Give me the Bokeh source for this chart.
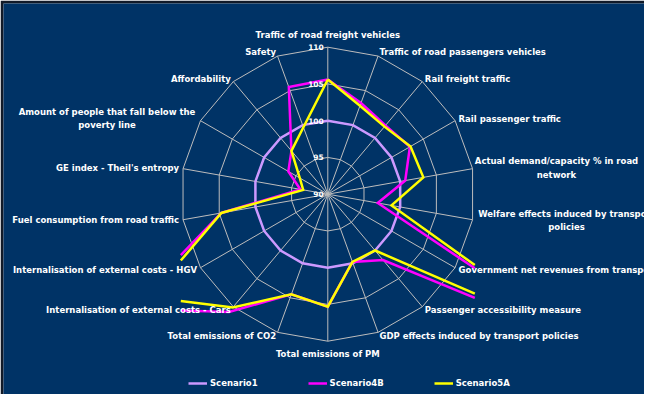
import numpy as np
from bokeh.plotting import figure
from bokeh.models import Range1d, Legend, LegendItem, ColumnDataSource
from bokeh.core.properties import value
from bokeh.embed import file_html
from bokeh.resources import INLINE

# ---------------- data ----------------
categories = [
    "Traffic of road freight vehicles",
    "Traffic of road passengers vehicles",
    "Rail freight traffic",
    "Rail passenger traffic",
    "Actual demand/capacity % in road\nnetwork",
    "Welfare effects induced by transport\npolicies",
    "Government net revenues from transport",
    "Passenger accessibility measure",
    "GDP effects induced by transport policies",
    "Total emissions of PM",
    "Total emissions of CO2",
    "Internalisation of external costs - Cars",
    "Internalisation of external costs - HGV",
    "Fuel consumption from road traffic",
    "GE index - Theil's entropy",
    "Amount of people that fall below the\npoverty line",
    "Affordability",
    "Safety",
]
scenario1 = [100, 100, 100, 100, 100, 100, 100, 100, 100,
             100, 100, 100, 100, 100, 100, 100, 100, 100]
scenario4b = [105.6, 103.2, 102.2, 102.9, 100.7, 96.9, 131.0, 101.7, 99.8,
              105.3, 104.5, 110.9, 121.3, 104.7, 93.8, 96.2, 97.7, 105.5]
scenario5a = [105.6, 102.8, 102.0, 103.0, 103.2, 98.8, 129.0, 100.0, 99.8,
              105.3, 104.5, 110.1, 118.0, 104.7, 93.4, 94.4, 97.7, 99.7]
series_names = ["Scenario1", "Scenario4B", "Scenario5A"]
series_colors = ["#CC99FF", "#FF00FF", "#FFFF00"]
ticks = [90, 95, 100, 105, 110]
r_min, r_max = 90, 110

# ---------------- geometry ----------------
BG = "#003366"
GRID = "#BDBDBD"
FONT = "DejaVu Sans"
CX, CY, R = 335.3, 201.7, 147.0   # page-pixel coordinates (y downward)
n = len(categories)
theta = np.arange(n) * 2 * np.pi / n  # clockwise from top


def to_xy(vals):
    v = np.asarray(vals, dtype=float)
    r = (v - r_min) / (r_max - r_min) * R
    return CX + r * np.sin(theta), CY - r * np.cos(theta)


XMIN, XMAX, YMIN, YMAX = CX - R, CX + R, CY - R, CY + R


def clip_seg(x0, y0, x1, y1):
    dx, dy = x1 - x0, y1 - y0
    p = [-dx, dx, -dy, dy]
    q = [x0 - XMIN, XMAX - x0, y0 - YMIN, YMAX - y0]
    u0, u1 = 0.0, 1.0
    for pi, qi in zip(p, q):
        if pi == 0:
            if qi < 0:
                return None
        else:
            t = qi / pi
            if pi < 0:
                u0 = max(u0, t)
            else:
                u1 = min(u1, t)
    if u0 > u1:
        return None
    return (x0 + u0 * dx, y0 + u0 * dy, x0 + u1 * dx, y0 + u1 * dy, u0 > 0, u1 < 1)


def clipped_polygon(vals):
    xs, ys = to_xy(vals)
    xs = list(xs) + [xs[0]]
    ys = list(ys) + [ys[0]]
    out_x, out_y = [], []
    cx_, cy_ = [], []
    for k in range(len(xs) - 1):
        res = clip_seg(xs[k], ys[k], xs[k + 1], ys[k + 1])
        if res is None:
            if cx_:
                out_x.append(cx_); out_y.append(cy_); cx_, cy_ = [], []
            continue
        a0, b0, a1, b1, cs, ce = res
        if not cx_ or cs:
            if cx_:
                out_x.append(cx_); out_y.append(cy_)
            cx_, cy_ = [a0], [b0]
        cx_.append(a1); cy_.append(b1)
        if ce:
            out_x.append(cx_); out_y.append(cy_); cx_, cy_ = [], []
    if cx_:
        out_x.append(cx_); out_y.append(cy_)
    return out_x, out_y


# ---------------- figure ----------------
p = figure(width=644, height=394, output_backend="svg", toolbar_location=None,
           x_range=Range1d(11, 652), y_range=Range1d(402, 11),
           min_border_left=3, min_border_top=3, min_border_right=0, min_border_bottom=0)
p.axis.visible = False
p.grid.visible = False
p.background_fill_color = BG
p.border_fill_color = "#111A28"
p.outline_line_color = None

# grid rings and spokes
ring_x, ring_y = [], []
for t in ticks[1:]:
    xs, ys = to_xy([t] * n)
    ring_x.append(list(xs) + [xs[0]])
    ring_y.append(list(ys) + [ys[0]])
p.multi_line(ring_x, ring_y, line_color=GRID, line_width=1)
ox, oy = to_xy([r_max] * n)
p.segment(x0=[CX] * n, y0=[CY] * n, x1=ox, y1=oy, line_color=GRID, line_width=1)

# series
items = []
for name, vals, col in zip(series_names, [scenario1, scenario4b, scenario5a], series_colors):
    mx, my = clipped_polygon(vals)
    rr = p.multi_line(mx, my, line_color=col, line_width=2.5, line_join="miter")
    items.append(LegendItem(label=name, renderers=[rr]))

# tick labels
tx = [CX - 4] * len(ticks)
ty = [CY - (t - r_min) / (r_max - r_min) * R for t in ticks]
p.text(tx, ty, text=[str(t) for t in ticks], text_color="#FFFFFF",
       text_font=value(FONT), text_font_style="bold", text_font_size="7.5px",
       text_align="right", text_baseline="middle")

# category labels
d = 4.0
groups = {"left": ([], [], []), "right": ([], [], []), "center": ([], [], [])}
for i, lab in enumerate(categories):
    s, c = np.sin(theta[i]), np.cos(theta[i])
    ax = ox[i] + d * s
    ay = oy[i] - d * c
    lines = lab.split("\n")
    if abs(s) < 0.1:
        ay = oy[i] - 12.5 if c > 0 else oy[i] + 13
        g = "center"
    elif len(lines) > 1:
        w = max(len(l) for l in lines) * 5.0
        ax = ax + np.sign(s) * w / 2
        g = "center"
    else:
        g = "left" if s > 0 else "right"
    groups[g][0].append(ax)
    groups[g][1].append(ay)
    groups[g][2].append(lab)
for g, (xs, ys, ts) in groups.items():
    p.text(xs, ys, text=ts, text_color="#FFFFFF", text_font=value(FONT),
           text_font_style="bold", text_font_size="8.5px",
           text_align=g, text_baseline="middle", text_line_height=1.35)

legend = Legend(items=items, orientation="horizontal", location=(185, 6),
                spacing=50, padding=0, margin=0, glyph_width=19, glyph_height=10,
                label_height=10, label_standoff=3,
                label_text_font=FONT, label_text_font_style="bold",
                label_text_font_size="8.5px", label_text_color="#FFFFFF",
                background_fill_alpha=0, border_line_color=None)
p.add_layout(legend)

open("out.html", "w").write(file_html(p, INLINE))
